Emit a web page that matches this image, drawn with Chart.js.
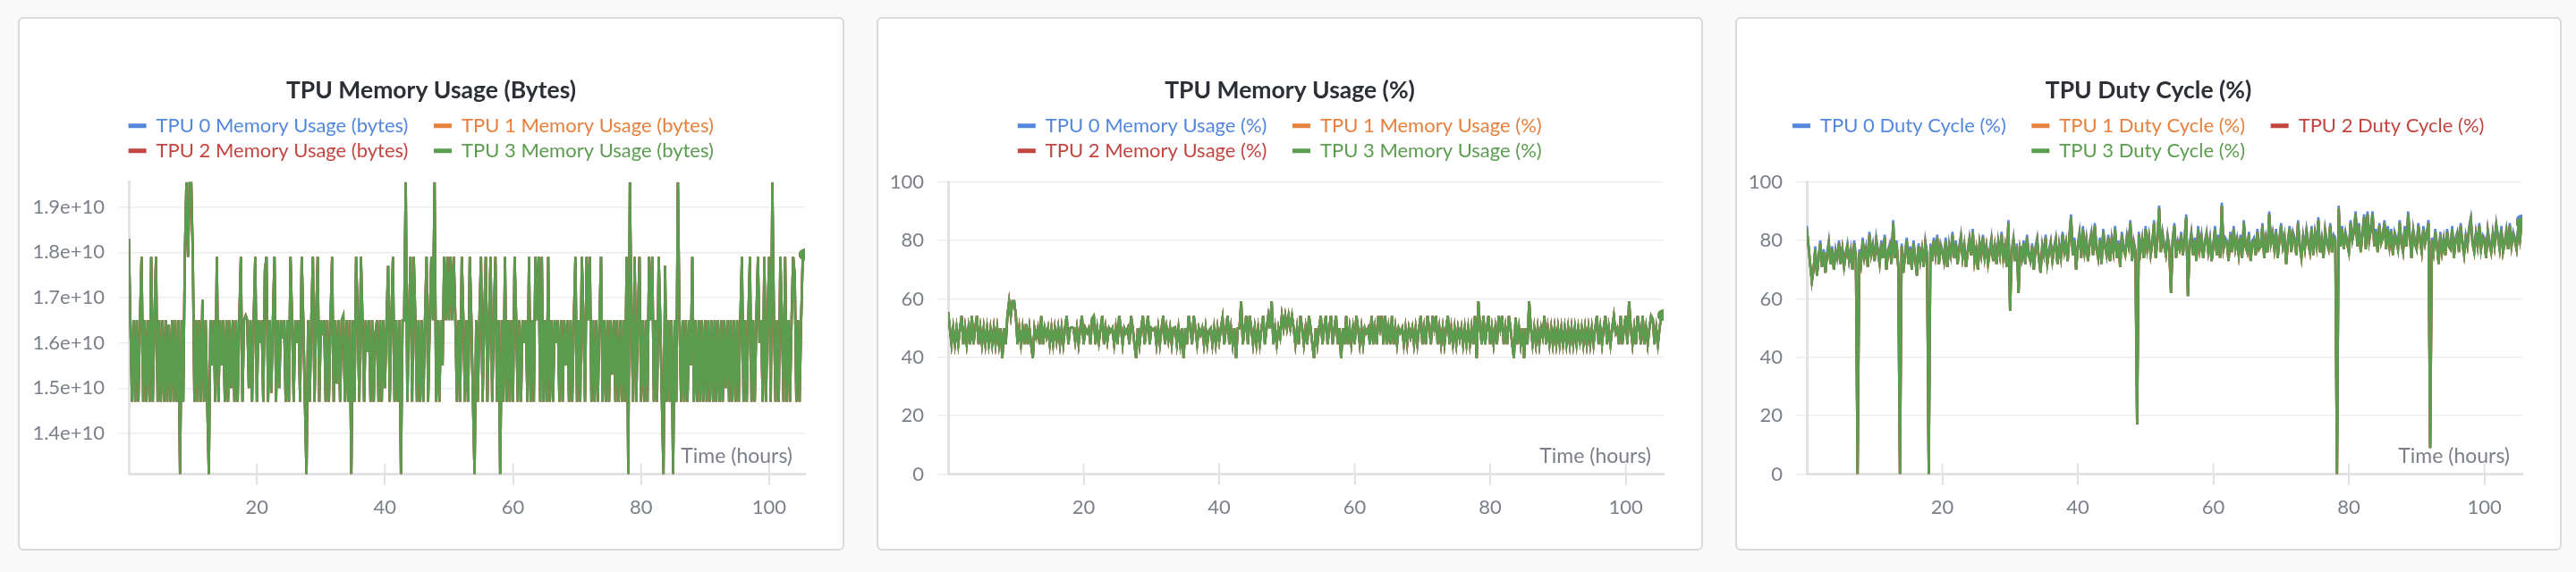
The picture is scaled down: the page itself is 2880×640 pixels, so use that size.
<!DOCTYPE html>
<html>
<head>
<meta charset="utf-8">
<title>TPU metrics</title>
<script src="https://cdn.jsdelivr.net/npm/chart.js@4.4.1/dist/chart.umd.min.js"></script>
<style>
    html, body { margin: 0; padding: 0; }
    body { width: 2880px; height: 640px; background: #f9f9fa; position: relative; overflow: hidden; }
    .panel {
        position: absolute; top: 19px; width: 924px; height: 597px;
        box-sizing: border-box; border: 2px solid #dadadd; border-radius: 6px; background: #fff;
    }
    .panel canvas { position: absolute; left: 0; top: 0; }
</style>
</head>
<body>
<div class="panel" style="left:20px"><canvas id="memBytesChart" width="920" height="593"></canvas></div>
<div class="panel" style="left:980px"><canvas id="memPctChart" width="920" height="593"></canvas></div>
<div class="panel" style="left:1940px"><canvas id="dutyChart" width="920" height="593"></canvas></div>

<script>
// Sample times (hours), one sample every quarter hour
const sampleHours = [
    0,0.25,0.5,0.75,1,1.25,1.5,1.75,2,2.25,2.5,2.75,3,3.25,3.5,3.75,4,4.25,4.5,4.75,
    5,5.25,5.5,5.75,6,6.25,6.5,6.75,7,7.25,7.5,7.75,8,8.25,8.5,8.75,9,9.25,9.5,9.75,
    10,10.25,10.5,10.75,11,11.25,11.5,11.75,12,12.25,12.5,12.75,13,13.25,13.5,13.75,14,14.25,14.5,14.75,
    15,15.25,15.5,15.75,16,16.25,16.5,16.75,17,17.25,17.5,17.75,18,18.25,18.5,18.75,19,19.25,19.5,19.75,
    20,20.25,20.5,20.75,21,21.25,21.5,21.75,22,22.25,22.5,22.75,23,23.25,23.5,23.75,24,24.25,24.5,24.75,
    25,25.25,25.5,25.75,26,26.25,26.5,26.75,27,27.25,27.5,27.75,28,28.25,28.5,28.75,29,29.25,29.5,29.75,
    30,30.25,30.5,30.75,31,31.25,31.5,31.75,32,32.25,32.5,32.75,33,33.25,33.5,33.75,34,34.25,34.5,34.75,
    35,35.25,35.5,35.75,36,36.25,36.5,36.75,37,37.25,37.5,37.75,38,38.25,38.5,38.75,39,39.25,39.5,39.75,
    40,40.25,40.5,40.75,41,41.25,41.5,41.75,42,42.25,42.5,42.75,43,43.25,43.5,43.75,44,44.25,44.5,44.75,
    45,45.25,45.5,45.75,46,46.25,46.5,46.75,47,47.25,47.5,47.75,48,48.25,48.5,48.75,49,49.25,49.5,49.75,
    50,50.25,50.5,50.75,51,51.25,51.5,51.75,52,52.25,52.5,52.75,53,53.25,53.5,53.75,54,54.25,54.5,54.75,
    55,55.25,55.5,55.75,56,56.25,56.5,56.75,57,57.25,57.5,57.75,58,58.25,58.5,58.75,59,59.25,59.5,59.75,
    60,60.25,60.5,60.75,61,61.25,61.5,61.75,62,62.25,62.5,62.75,63,63.25,63.5,63.75,64,64.25,64.5,64.75,
    65,65.25,65.5,65.75,66,66.25,66.5,66.75,67,67.25,67.5,67.75,68,68.25,68.5,68.75,69,69.25,69.5,69.75,
    70,70.25,70.5,70.75,71,71.25,71.5,71.75,72,72.25,72.5,72.75,73,73.25,73.5,73.75,74,74.25,74.5,74.75,
    75,75.25,75.5,75.75,76,76.25,76.5,76.75,77,77.25,77.5,77.75,78,78.25,78.5,78.75,79,79.25,79.5,79.75,
    80,80.25,80.5,80.75,81,81.25,81.5,81.75,82,82.25,82.5,82.75,83,83.25,83.5,83.75,84,84.25,84.5,84.75,
    85,85.25,85.5,85.75,86,86.25,86.5,86.75,87,87.25,87.5,87.75,88,88.25,88.5,88.75,89,89.25,89.5,89.75,
    90,90.25,90.5,90.75,91,91.25,91.5,91.75,92,92.25,92.5,92.75,93,93.25,93.5,93.75,94,94.25,94.5,94.75,
    95,95.25,95.5,95.75,96,96.25,96.5,96.75,97,97.25,97.5,97.75,98,98.25,98.5,98.75,99,99.25,99.5,99.75,
    100,100.25,100.5,100.75,101,101.25,101.5,101.75,102,102.25,102.5,102.75,103,103.25,103.5,103.75,104,104.25,104.5,104.75,
    105,105.25,105.5
];

// TPU memory usage in bytes (the four TPUs overlap almost exactly)
const memBytes = [
    1.83e10,1.65e10,1.47e10,1.65e10,1.47e10,1.65e10,1.47e10,1.65e10,1.79e10,1.47e10,1.65e10,1.47e10,1.65e10,1.47e10,1.79e10,1.47e10,1.65e10,1.79e10,1.47e10,1.65e10,
    1.47e10,1.65e10,1.47e10,1.65e10,1.47e10,1.64e10,1.47e10,1.65e10,1.47e10,1.65e10,1.47e10,1.65e10,1.31e10,1.65e10,1.47e10,1.79e10,1.955e10,1.79e10,1.955e10,1.955e10,
    1.79e10,1.47e10,1.65e10,1.47e10,1.65e10,1.47e10,1.695e10,1.47e10,1.65e10,1.47e10,1.31e10,1.65e10,1.55e10,1.65e10,1.47e10,1.79e10,1.47e10,1.65e10,1.55e10,1.65e10,
    1.47e10,1.65e10,1.47e10,1.65e10,1.5e10,1.65e10,1.47e10,1.65e10,1.47e10,1.65e10,1.79e10,1.47e10,1.65e10,1.66e10,1.65e10,1.5e10,1.65e10,1.47e10,1.65e10,1.79e10,
    1.47e10,1.65e10,1.6e10,1.65e10,1.47e10,1.76e10,1.79e10,1.47e10,1.65e10,1.49e10,1.65e10,1.79e10,1.47e10,1.65e10,1.5e10,1.65e10,1.61e10,1.65e10,1.47e10,1.65e10,
    1.47e10,1.79e10,1.65e10,1.47e10,1.65e10,1.6e10,1.65e10,1.47e10,1.79e10,1.65e10,1.47e10,1.31e10,1.65e10,1.47e10,1.65e10,1.79e10,1.47e10,1.65e10,1.79e10,1.47e10,
    1.65e10,1.63e10,1.65e10,1.47e10,1.65e10,1.47e10,1.65e10,1.79e10,1.47e10,1.65e10,1.51e10,1.65e10,1.47e10,1.65e10,1.66e10,1.47e10,1.65e10,1.47e10,1.65e10,1.31e10,
    1.65e10,1.47e10,1.79e10,1.65e10,1.47e10,1.79e10,1.65e10,1.47e10,1.65e10,1.58e10,1.65e10,1.47e10,1.65e10,1.47e10,1.62e10,1.65e10,1.47e10,1.65e10,1.47e10,1.65e10,
    1.5e10,1.65e10,1.77e10,1.47e10,1.65e10,1.79e10,1.47e10,1.65e10,1.47e10,1.65e10,1.31e10,1.65e10,1.65e10,1.955e10,1.47e10,1.65e10,1.79e10,1.47e10,1.79e10,1.65e10,
    1.47e10,1.65e10,1.47e10,1.65e10,1.47e10,1.65e10,1.79e10,1.47e10,1.65e10,1.79e10,1.65e10,1.955e10,1.47e10,1.65e10,1.47e10,1.65e10,1.55e10,1.79e10,1.65e10,1.79e10,
    1.65e10,1.79e10,1.65e10,1.79e10,1.65e10,1.47e10,1.65e10,1.47e10,1.79e10,1.65e10,1.47e10,1.65e10,1.47e10,1.79e10,1.65e10,1.47e10,1.31e10,1.65e10,1.47e10,1.65e10,
    1.79e10,1.47e10,1.65e10,1.79e10,1.47e10,1.65e10,1.79e10,1.47e10,1.65e10,1.79e10,1.47e10,1.65e10,1.31e10,1.65e10,1.47e10,1.79e10,1.47e10,1.65e10,1.47e10,1.65e10,
    1.47e10,1.79e10,1.65e10,1.47e10,1.65e10,1.47e10,1.65e10,1.6e10,1.65e10,1.47e10,1.79e10,1.47e10,1.65e10,1.47e10,1.79e10,1.65e10,1.79e10,1.47e10,1.79e10,1.47e10,
    1.65e10,1.47e10,1.79e10,1.47e10,1.65e10,1.47e10,1.65e10,1.6e10,1.65e10,1.47e10,1.65e10,1.47e10,1.65e10,1.55e10,1.65e10,1.47e10,1.65e10,1.47e10,1.65e10,1.79e10,
    1.47e10,1.65e10,1.47e10,1.79e10,1.65e10,1.47e10,1.79e10,1.65e10,1.79e10,1.47e10,1.65e10,1.47e10,1.65e10,1.47e10,1.65e10,1.79e10,1.47e10,1.65e10,1.47e10,1.65e10,
    1.47e10,1.65e10,1.53e10,1.65e10,1.47e10,1.65e10,1.47e10,1.65e10,1.47e10,1.65e10,1.47e10,1.79e10,1.31e10,1.955e10,1.65e10,1.47e10,1.79e10,1.47e10,1.65e10,1.79e10,
    1.47e10,1.65e10,1.47e10,1.65e10,1.47e10,1.79e10,1.65e10,1.79e10,1.47e10,1.65e10,1.47e10,1.79e10,1.65e10,1.47e10,1.31e10,1.77e10,1.47e10,1.65e10,1.47e10,1.65e10,
    1.31e10,1.65e10,1.47e10,1.955e10,1.65e10,1.47e10,1.65e10,1.47e10,1.65e10,1.47e10,1.65e10,1.55e10,1.79e10,1.47e10,1.65e10,1.47e10,1.65e10,1.47e10,1.65e10,1.47e10,
    1.65e10,1.47e10,1.65e10,1.47e10,1.65e10,1.47e10,1.65e10,1.47e10,1.65e10,1.47e10,1.65e10,1.47e10,1.65e10,1.5e10,1.65e10,1.47e10,1.65e10,1.47e10,1.65e10,1.47e10,
    1.65e10,1.47e10,1.65e10,1.79e10,1.47e10,1.65e10,1.47e10,1.65e10,1.79e10,1.47e10,1.65e10,1.47e10,1.65e10,1.79e10,1.6e10,1.65e10,1.47e10,1.79e10,1.47e10,1.65e10,
    1.79e10,1.47e10,1.955e10,1.65e10,1.47e10,1.65e10,1.47e10,1.79e10,1.65e10,1.47e10,1.79e10,1.47e10,1.65e10,1.47e10,1.65e10,1.79e10,1.75e10,1.47e10,1.65e10,1.47e10,
    1.65e10,1.79e10,1.795e10
];

// TPU memory usage in percent
const memPct = [
    55.5,50,44.5,50,44.5,50,44.5,50,54.2,44.5,50,44.5,50,44.5,54.2,44.5,50,54.2,44.5,50,
    44.5,50,44.5,50,44.5,49.7,44.5,50,44.5,50,44.5,50,39.7,50,44.5,54.2,59.2,54.2,59.2,59.2,
    54.2,44.5,50,44.5,50,44.5,51.4,44.5,50,44.5,39.7,50,47,50,44.5,54.2,44.5,50,47,50,
    44.5,50,44.5,50,45.5,50,44.5,50,44.5,50,54.2,44.5,50,50.3,50,45.5,50,44.5,50,54.2,
    44.5,50,48.5,50,44.5,53.3,54.2,44.5,50,45.2,50,54.2,44.5,50,45.5,50,48.8,50,44.5,50,
    44.5,54.2,50,44.5,50,48.5,50,44.5,54.2,50,44.5,39.7,50,44.5,50,54.2,44.5,50,54.2,44.5,
    50,49.4,50,44.5,50,44.5,50,54.2,44.5,50,45.8,50,44.5,50,50.3,44.5,50,44.5,50,39.7,
    50,44.5,54.2,50,44.5,54.2,50,44.5,50,47.9,50,44.5,50,44.5,49.1,50,44.5,50,44.5,50,
    45.5,50,53.6,44.5,50,54.2,44.5,50,44.5,50,39.7,50,50,59.2,44.5,50,54.2,44.5,54.2,50,
    44.5,50,44.5,50,44.5,50,54.2,44.5,50,54.2,50,59.2,44.5,50,44.5,50,47,54.2,50,54.2,
    50,54.2,50,54.2,50,44.5,50,44.5,54.2,50,44.5,50,44.5,54.2,50,44.5,39.7,50,44.5,50,
    54.2,44.5,50,54.2,44.5,50,54.2,44.5,50,54.2,44.5,50,39.7,50,44.5,54.2,44.5,50,44.5,50,
    44.5,54.2,50,44.5,50,44.5,50,48.5,50,44.5,54.2,44.5,50,44.5,54.2,50,54.2,44.5,54.2,44.5,
    50,44.5,54.2,44.5,50,44.5,50,48.5,50,44.5,50,44.5,50,47,50,44.5,50,44.5,50,54.2,
    44.5,50,44.5,54.2,50,44.5,54.2,50,54.2,44.5,50,44.5,50,44.5,50,54.2,44.5,50,44.5,50,
    44.5,50,46.4,50,44.5,50,44.5,50,44.5,50,44.5,54.2,39.7,59.2,50,44.5,54.2,44.5,50,54.2,
    44.5,50,44.5,50,44.5,54.2,50,54.2,44.5,50,44.5,54.2,50,44.5,39.7,53.6,44.5,50,44.5,50,
    39.7,50,44.5,59.2,50,44.5,50,44.5,50,44.5,50,47,54.2,44.5,50,44.5,50,44.5,50,44.5,
    50,44.5,50,44.5,50,44.5,50,44.5,50,44.5,50,44.5,50,45.5,50,44.5,50,44.5,50,44.5,
    50,44.5,50,54.2,44.5,50,44.5,50,54.2,44.5,50,44.5,50,54.2,48.5,50,44.5,54.2,44.5,50,
    54.2,44.5,59.2,50,44.5,50,44.5,54.2,50,44.5,54.2,44.5,50,44.5,50,54.2,53,44.5,50,44.5,
    50,54.2,54.4
];

// TPU 0 duty cycle (%), sits a little above the others on the peaks
const dutyTpu0 = [
    85,79,72,66,70,78,68,75,80,71,77,69,76,80,72,78,70,77,74,80,
    72,78,71,76,79,73,77,70,80,75,0,77,72,81,75,78,71,83,76,79,
    73,81,77,72,80,74,82,70,77,79,72,87,75,80,71,0,79,69,76,81,
    72,78,70,80,75,68,79,73,78,71,80,76,0,79,73,81,76,82,72,79,
    77,73,81,71,79,75,83,74,80,72,78,82,75,79,71,77,81,75,84,73,
    78,70,80,75,82,74,79,72,77,81,73,79,72,80,76,83,74,79,71,87,
    56,77,81,73,79,62,78,74,80,72,82,76,73,79,70,78,81,74,69,79,
    76,82,72,77,80,73,78,81,72,79,75,83,77,80,73,82,89,76,81,70,
    79,83,74,85,77,81,73,80,83,75,86,78,74,81,72,84,79,75,82,73,
    81,77,85,74,80,71,83,78,76,82,79,87,73,80,77,17,83,77,81,74,
    85,78,82,76,80,87,74,81,92,77,83,79,76,82,78,62,81,86,75,80,
    78,83,76,81,89,61,79,83,76,81,73,85,78,82,75,80,83,77,81,73,
    79,85,76,82,75,93,78,81,80,73,83,77,85,78,81,76,82,75,87,79,
    77,83,74,80,81,76,84,78,79,86,75,81,77,90,80,83,78,84,75,81,
    86,79,82,72,80,85,77,83,81,76,87,79,75,82,78,84,80,77,85,76,
    83,79,88,77,81,75,84,80,78,86,77,82,81,0,92,79,85,78,83,80,
    77,87,81,84,90,79,86,77,83,89,78,90,81,85,90,79,84,77,86,80,
    82,87,78,85,79,84,76,83,81,78,87,80,77,85,79,90,82,75,84,80,
    78,86,81,77,85,80,83,87,9,81,77,84,79,73,83,77,81,76,84,79,
    78,85,75,81,83,77,86,80,76,82,79,85,88,80,77,83,79,86,78,82,
    81,75,84,80,77,83,79,86,82,78,85,77,80,84,78,86,79,83,81,78,
    85,81,87
];

// TPU 1, 2 and 3 duty cycle (%), drawn on top of each other
const dutyTpu123 = [
    84,78,72,66,70,77,68,74,79,71,76,69,75,79,72,77,70,76,74,79,
    72,77,71,75,78,73,76,70,79,74,0,76,72,80,74,77,71,82,75,78,
    73,80,76,72,79,74,81,70,76,78,72,86,74,79,71,0,78,69,75,80,
    72,77,70,79,74,68,78,73,77,71,79,75,0,78,73,80,75,81,72,78,
    76,73,80,71,78,75,82,74,79,72,77,81,74,78,71,76,80,75,83,73,
    77,70,79,75,81,74,78,72,76,80,73,78,72,79,75,82,74,78,71,86,
    56,76,80,73,78,62,77,74,79,72,81,75,73,78,70,77,80,74,69,78,
    75,81,72,76,79,73,77,80,72,78,74,82,76,79,73,81,88,75,80,70,
    78,82,74,84,76,80,73,79,82,75,85,77,74,80,72,83,78,75,81,73,
    80,76,84,74,79,71,82,77,75,81,78,86,73,79,76,17,82,76,80,74,
    84,77,81,75,79,86,74,80,91,76,82,78,75,81,77,62,80,85,74,79,
    77,82,75,80,88,61,78,82,75,80,73,84,77,81,74,79,82,76,80,73,
    78,84,75,81,74,92,77,80,79,73,82,76,84,77,80,75,81,74,86,78,
    76,82,73,79,80,75,83,77,78,85,74,80,76,89,79,82,77,83,74,80,
    85,78,81,72,79,84,76,82,80,75,86,78,74,81,77,83,79,76,84,75,
    82,78,87,76,80,74,83,79,77,85,76,81,80,0,91,78,84,77,82,79,
    76,86,80,83,89,78,85,76,82,88,77,89,80,84,89,78,83,76,85,79,
    81,86,77,84,78,83,75,82,80,77,86,79,76,84,78,89,81,74,83,79,
    77,85,80,76,84,79,82,86,9,80,76,83,78,72,82,76,80,75,83,78,
    77,84,74,80,82,76,85,79,75,81,78,84,87,79,76,82,78,85,77,81,
    80,74,83,79,76,82,78,85,81,77,84,76,79,83,77,85,78,82,80,77,
    84,80,86
];

const memBytesLabels = ['TPU 0 Memory Usage (bytes)', 'TPU 1 Memory Usage (bytes)', 'TPU 2 Memory Usage (bytes)', 'TPU 3 Memory Usage (bytes)'];
const memPctLabels = ['TPU 0 Memory Usage (%)', 'TPU 1 Memory Usage (%)', 'TPU 2 Memory Usage (%)', 'TPU 3 Memory Usage (%)'];
const dutyLabels = ['TPU 0 Duty Cycle (%)', 'TPU 1 Duty Cycle (%)', 'TPU 2 Duty Cycle (%)', 'TPU 3 Duty Cycle (%)'];

const hourTicks = [20, 40, 60, 80, 100];
const bytesTicks = [1.4e10, 1.5e10, 1.6e10, 1.7e10, 1.8e10, 1.9e10];
const pctTicks = [0, 20, 40, 60, 80, 100];
const xAxisTitle = 'Time (hours)';

const colors = ['#5387dd', '#e8803d', '#c2453f', '#5a9d4e'];
const FONT = 'Lato';
const TICK_COLOR = '#7b7f89';
const AXIS_COLOR = '#e2e2e5';

// tick stubs above the x axis + the axis title sitting inside the plot
const axisExtras = {
    id: 'axisExtras',
    beforeDatasetsDraw (chart) {
        const { ctx, chartArea, scales } = chart;
        ctx.save();
        ctx.strokeStyle = AXIS_COLOR;
        ctx.lineWidth = 2;
        hourTicks.forEach(v => {
            const px = scales.x.getPixelForValue(v);
            ctx.beginPath();
            ctx.moveTo(px, chartArea.bottom - 12);
            ctx.lineTo(px, chartArea.bottom);
            ctx.stroke();
        });
        ctx.fillStyle = TICK_COLOR;
        ctx.font = '23px ' + FONT;
        ctx.textAlign = 'right';
        ctx.textBaseline = 'middle';
        ctx.fillText(xAxisTitle, chartArea.right - 14, chartArea.bottom - 20);
        ctx.restore();
    }
};

function makeChart (id, title, labels, series, y) {
    const last = sampleHours.length - 1;

    return new Chart(document.getElementById(id), {
        type: 'line',
        data: {
            labels: sampleHours,
            datasets: labels.map((label, i) => ({
                label: label,
                data: series[i],
                borderColor: colors[i],
                backgroundColor: colors[i],
                borderWidth: 2.6,
                tension: 0,
                pointRadius: c => c.dataIndex === last ? 5 : 0,
                pointHoverRadius: 0,
                order: 3 - i,
                xAxisID: 'x',
                yAxisID: 'y'
            }))
        },
        options: {
            responsive: false,
            animation: false,
            events: [],
            layout: { padding: { top: 65, left: 12, right: 12, bottom: 21 } },
            plugins: {
                title: {
                    display: true,
                    text: title,
                    color: '#2c2f36',
                    font: { family: FONT, size: 26.5, weight: 'bold' },
                    padding: { top: 0, bottom: 6 }
                },
                legend: {
                    position: 'top',
                    labels: {
                        font: { family: FONT, size: 22 },
                        boxWidth: 20,
                        boxHeight: 5,
                        padding: 6,
                        useBorderRadius: true,
                        borderRadius: 2,
                        generateLabels: chart => chart.data.datasets.map((ds, i) => ({
                            text: ds.label + '    ',
                            fillStyle: ds.borderColor,
                            strokeStyle: ds.borderColor,
                            fontColor: ds.borderColor,
                            lineWidth: 0,
                            hidden: false,
                            datasetIndex: i
                        }))
                    }
                },
                tooltip: { enabled: false }
            },
            scales: {
                x: {
                    type: 'linear',
                    min: 0,
                    max: 105.6,
                    afterBuildTicks: s => { s.ticks = hourTicks.map(v => ({ value: v })); },
                    grid: { drawOnChartArea: false, color: AXIS_COLOR, lineWidth: 2, tickLength: 12 },
                    border: { color: AXIS_COLOR, width: 3 },
                    ticks: { color: TICK_COLOR, font: { family: FONT, size: 22 }, padding: 12, maxRotation: 0, autoSkip: false }
                },
                xTop: {
                    type: 'linear',
                    position: 'top',
                    grid: { display: false },
                    border: { display: false },
                    ticks: { display: false },
                    afterFit: s => { s.height = 14; }
                },
                y: {
                    min: y.min,
                    max: y.max,
                    afterBuildTicks: s => { s.ticks = y.ticks.map(v => ({ value: v })); },
                    afterFit: s => { s.width = y.width; },
                    grid: { color: '#ededf0', lineWidth: 1.5, tickLength: 12 },
                    border: { color: AXIS_COLOR, width: 3 },
                    ticks: { color: TICK_COLOR, font: { family: FONT, size: 22 }, padding: 15, callback: y.format }
                },
                yRight: {
                    position: 'right',
                    grid: { display: false },
                    border: { display: false },
                    ticks: { display: false },
                    afterFit: s => { s.width = 30; }
                }
            }
        },
        plugins: [axisExtras]
    });
}

makeChart('memBytesChart', 'TPU Memory Usage (Bytes)', memBytesLabels,
    [memBytes, memBytes, memBytes, memBytes],
    { min: 1.31e10, max: 1.955e10, ticks: bytesTicks, width: 110, format: v => v.toExponential(1) });

makeChart('memPctChart', 'TPU Memory Usage (%)', memPctLabels,
    [memPct, memPct, memPct, memPct],
    { min: 0, max: 100, ticks: pctTicks, width: 66, format: v => v });

makeChart('dutyChart', 'TPU Duty Cycle (%)', dutyLabels,
    [dutyTpu0, dutyTpu123, dutyTpu123, dutyTpu123],
    { min: 0, max: 100, ticks: pctTicks, width: 66, format: v => v });
</script>
</body>
</html>
